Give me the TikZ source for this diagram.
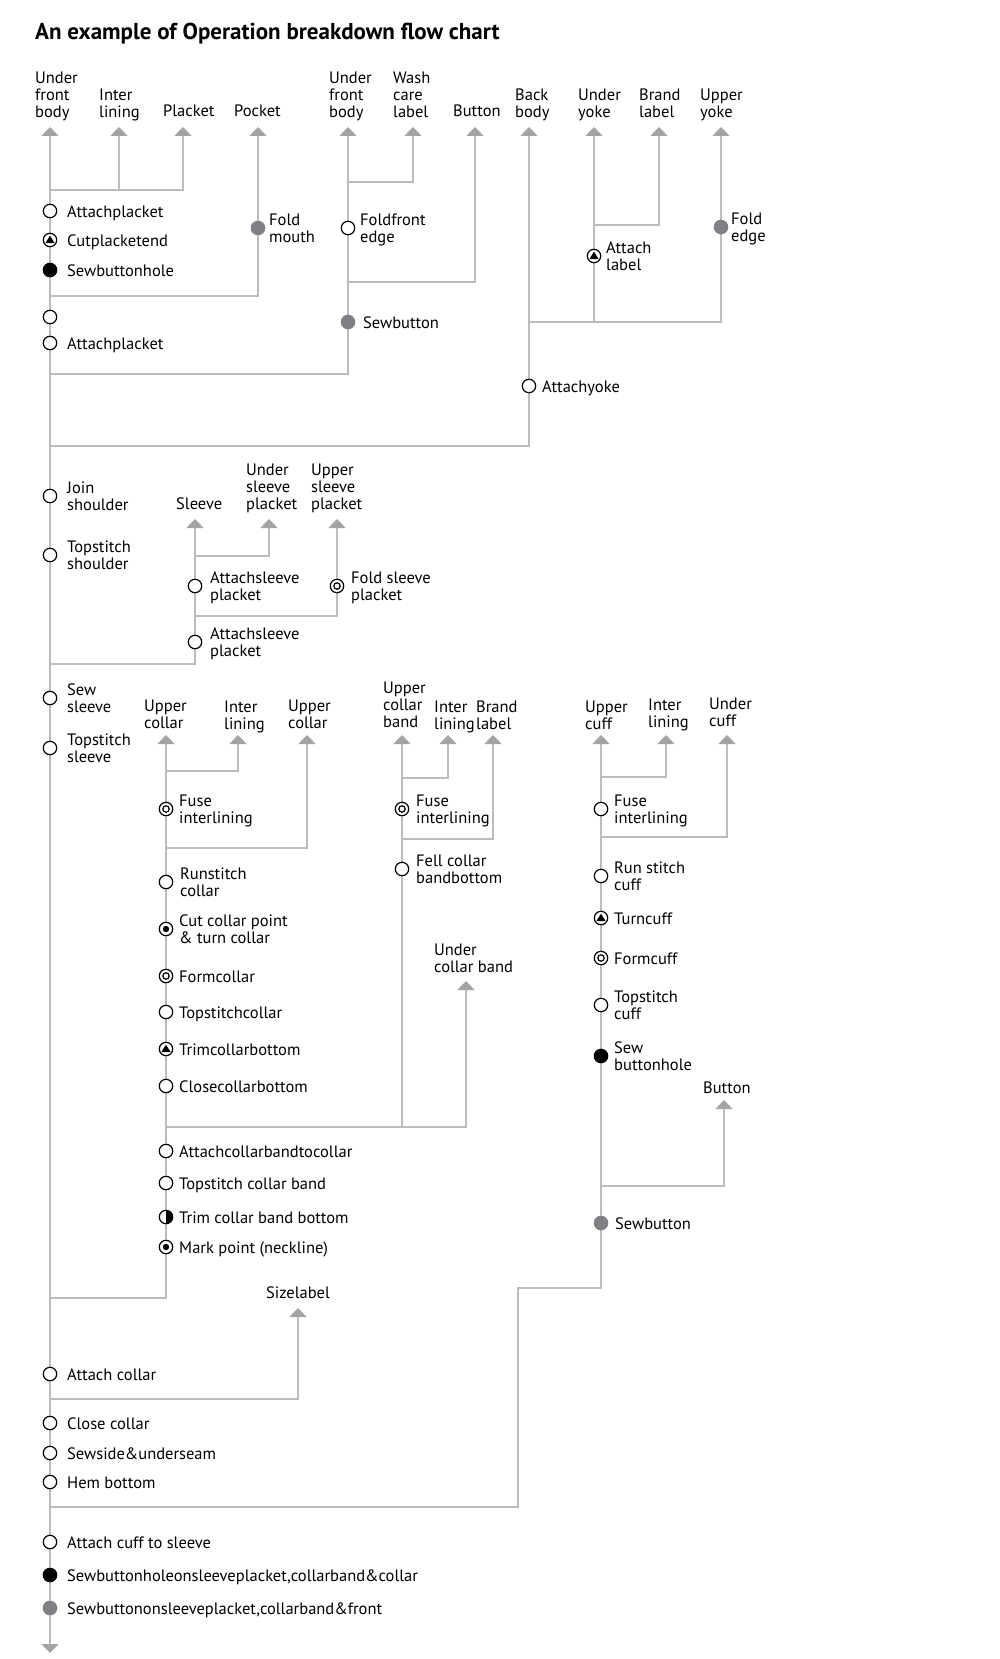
\documentclass[tikz,border=0pt]{standalone}
\usepackage{fontspec}
\setmainfont{PT Sans}
\usetikzlibrary{arrows.meta}
\definecolor{lngray}{RGB}{188,188,190}
\definecolor{argray}{RGB}{163,163,166}
\definecolor{dotgray}{RGB}{128,128,132}
\newcommand\labfont{\fontsize{16.5}{17}\selectfont}
\tikzset{
 ln/.style={draw=lngray, line width=1.5pt},
 ar/.style={-{Triangle[width=17pt,length=9pt,color=argray]}},
 arboth/.style={{Triangle[width=17pt,length=9pt,color=argray]}-{Triangle[width=17pt,length=9pt,color=argray]}},
 mk/.style={circle, inner sep=0pt, minimum size=13.4pt, line width=1.2pt},
 mopen/.style={mk, draw=black, fill=white},
 mblack/.style={mk, draw=black, fill=black},
 mgray/.style={mk, fill=dotgray, minimum size=14.6pt},
 mtri/.style={mopen, path picture={\fill[black] ([shift={(0pt,4.3pt)}]path picture bounding box.center) -- ([shift={(-4.6pt,-3pt)}]path picture bounding box.center) -- ([shift={(4.6pt,-3pt)}]path picture bounding box.center) -- cycle;}},
 mring/.style={mopen, path picture={\draw[black,line width=1.2pt] (path picture bounding box.center) circle[radius=3.2pt];}},
 mdot/.style={mopen, path picture={\fill[black] (path picture bounding box.center) circle[radius=3.2pt];}},
 mhalf/.style={mopen, path picture={\fill[black] (path picture bounding box.south) rectangle (path picture bounding box.north east);}},
 lb/.style={inner sep=0pt, align=left, font=\labfont},
 lbn/.style={lb, anchor=north west},
 lbb/.style={lb, anchor=base west},
}
\begin{document}
\begin{tikzpicture}[x=1pt,y=-1pt]
\fill[white] (0,0) rectangle (1000,1659);
\useasboundingbox (0,0) rectangle (1000,1659);

\node[anchor=base west, inner sep=0pt, font=\fontsize{23}{26}\selectfont\bfseries] (title) at (35,40) {An example of Operation breakdown flow chart};

% ---------- arrow tips ----------
\coordinate (aUFB) at (50,127);
\coordinate (aIL1) at (119,127);
\coordinate (aPla) at (183,127);
\coordinate (aPoc) at (258,127);
\coordinate (aUFB2) at (348,127);
\coordinate (aWash) at (413,127);
\coordinate (aBut) at (475,127);
\coordinate (aBack) at (529,127);
\coordinate (aUY) at (594,127);
\coordinate (aBL) at (659,127);
\coordinate (aUpY) at (721,127);
\coordinate (aSlv) at (195,519);
\coordinate (aUSP) at (269,519);
\coordinate (aUpSP) at (337,519);
\coordinate (aUC) at (166,735);
\coordinate (aIL2) at (238,735);
\coordinate (aUC2) at (307,735);
\coordinate (aUCB) at (402,735);
\coordinate (aIL3) at (448,735);
\coordinate (aBL2) at (493,735);
\coordinate (aUnCB) at (466,981);
\coordinate (aUCf) at (601,735);
\coordinate (aIL4) at (666,735);
\coordinate (aUnCf) at (727,735);
\coordinate (aBut2) at (724,1100);
\coordinate (aSize) at (298,1308);
\coordinate (aEnd) at (50,1653);

% ---------- junctions ----------
\coordinate (j1) at (50,190);   \coordinate (j1b) at (119,190);
\coordinate (j2) at (50,296);
\coordinate (j3) at (50,374);   \coordinate (j3b) at (348,182); \coordinate (j3c) at (348,282);
\coordinate (j4) at (50,446);   \coordinate (j4b) at (529,322); \coordinate (j4c) at (594,322); \coordinate (j4d) at (594,225);
\coordinate (j5) at (50,664);   \coordinate (j5b) at (195,556); \coordinate (j5c) at (195,616);
\coordinate (j6) at (50,1298);  \coordinate (j6b) at (166,771); \coordinate (j6c) at (166,848);
\coordinate (j6d) at (166,1127); \coordinate (j6e) at (402,1127); \coordinate (j6f) at (402,778); \coordinate (j6g) at (402,839);
\coordinate (j7) at (50,1399);
\coordinate (j8) at (50,1507);  \coordinate (k8) at (518,1288);
\coordinate (j8b) at (601,777); \coordinate (j8c) at (601,837); \coordinate (j8d) at (601,1186);

% ---------- connectors ----------
\draw[ln,arboth] (aEnd) -- (aUFB);
\draw[ln,ar] (j1) -| (aPla);
\draw[ln,ar] (j1b) -- (aIL1);
\draw[ln,ar] (j2) -| (aPoc);
\draw[ln,ar] (j3) -| (aUFB2);
\draw[ln,ar] (j3b) -| (aWash);
\draw[ln,ar] (j3c) -| (aBut);
\draw[ln,ar] (j4) -| (aBack);
\draw[ln,ar] (j4b) -| (aUpY);
\draw[ln,ar] (j4c) -- (aUY);
\draw[ln,ar] (j4d) -| (aBL);
\draw[ln,ar] (j5) -| (aSlv);
\draw[ln,ar] (j5b) -| (aUSP);
\draw[ln,ar] (j5c) -| (aUpSP);
\draw[ln,ar] (j6) -| (aUC);
\draw[ln,ar] (j6b) -| (aIL2);
\draw[ln,ar] (j6c) -| (aUC2);
\draw[ln,ar] (j6d) -| (aUnCB);
\draw[ln,ar] (j6e) -- (aUCB);
\draw[ln,ar] (j6f) -| (aIL3);
\draw[ln,ar] (j6g) -| (aBL2);
\draw[ln,ar] (j7) -| (aSize);
\draw[ln,ar] (j8) -| (k8) -| (aUCf);
\draw[ln,ar] (j8b) -| (aIL4);
\draw[ln,ar] (j8c) -| (aUnCf);
\draw[ln,ar] (j8d) -| (aBut2);

% ---------- top labels ----------
\node[lbn] (tUFB) at (35,71.5) {Under\\front\\body};
\node[lbn] (tIL1) at (99,88.5) {Inter\\lining};
\node[lbb] (tPla) at (163,117) {Placket};
\node[lbb] (tPoc) at (234,117) {Pocket};
\node[lbn] (tUFB2) at (329,71.5) {Under\\front\\body};
\node[lbn] (tWash) at (393,71.5) {Wash\\care\\label};
\node[lbb] (tBut) at (453,117) {Button};
\node[lbn] (tBack) at (515,88.5) {Back\\body};
\node[lbn] (tUY) at (578,88.5) {Under\\yoke};
\node[lbn] (tBL) at (639,88.5) {Brand\\label};
\node[lbn] (tUpY) at (700,88.5) {Upper\\yoke};
\node[lbb] (tSlv) at (176,509) {Sleeve};
\node[lbn] (tUSP) at (246,463.5) {Under\\sleeve\\placket};
\node[lbn] (tUpSP) at (311,463.5) {Upper\\sleeve\\placket};
\node[lbn] (tUC) at (144,699.5) {Upper\\collar};
\node[lbn] (tIL2) at (224,700.5) {Inter\\lining};
\node[lbn] (tUC2) at (288,699.5) {Upper\\collar};
\node[lbn] (tUCB) at (383,681.5) {Upper\\collar\\band};
\node[lbn] (tIL3) at (434,700.5) {Inter\\lining};
\node[lbn] (tBL2) at (476,700.5) {Brand\\label};
\node[lbn] (tUnCB) at (434,943.5) {Under\\collar band};
\node[lbn] (tUCf) at (585,700.5) {Upper\\cuff};
\node[lbn] (tIL4) at (648,698.5) {Inter\\lining};
\node[lbn] (tUnCf) at (709,697.5) {Under\\cuff};
\node[lbb] (tBut2) at (703,1093) {Button};
\node[lb,anchor=base] (tSize) at (298,1298) {Sizelabel};

% ---------- markers ----------
\node[mopen] (s1) at (50,211) {};
\node[mtri] (s2) at (50,240) {};
\node[mblack] (s3) at (50,270) {};
\node[mopen] (s4) at (50,317) {};
\node[mopen] (s5) at (50,343) {};
\node[mgray] (s6) at (258,228) {};
\node[mopen] (s7) at (348,228) {};
\node[mgray] (s8) at (348,322) {};
\node[mtri] (s9) at (594,256) {};
\node[mgray] (s10) at (721,227) {};
\node[mopen] (s11) at (529,386) {};
\node[mopen] (s12) at (50,496) {};
\node[mopen] (s13) at (50,555) {};
\node[mopen] (s14) at (195,586) {};
\node[mring] (s15) at (337,586) {};
\node[mopen] (s16) at (195,642) {};
\node[mopen] (s17) at (50,698) {};
\node[mopen] (s18) at (50,748) {};
\node[mring] (s19) at (166,809) {};
\node[mopen] (s20) at (166,882) {};
\node[mdot] (s21) at (166,929) {};
\node[mring] (s22) at (166,976) {};
\node[mopen] (s23) at (166,1012) {};
\node[mtri] (s24) at (166,1049) {};
\node[mopen] (s25) at (166,1086) {};
\node[mopen] (s26) at (166,1151) {};
\node[mopen] (s27) at (166,1183) {};
\node[mhalf] (s28) at (166,1217) {};
\node[mdot] (s29) at (166,1247) {};
\node[mring] (s30) at (402,809) {};
\node[mopen] (s31) at (402,869) {};
\node[mopen] (s32) at (601,809) {};
\node[mopen] (s33) at (601,876) {};
\node[mtri] (s34) at (601,918) {};
\node[mring] (s35) at (601,958) {};
\node[mopen] (s36) at (601,1005) {};
\node[mblack] (s37) at (601,1056) {};
\node[mgray] (s38) at (601,1223) {};
\node[mopen] (s39) at (50,1374) {};
\node[mopen] (s40) at (50,1423) {};
\node[mopen] (s41) at (50,1453) {};
\node[mopen] (s42) at (50,1482) {};
\node[mopen] (s43) at (50,1542) {};
\node[mblack] (s44) at (50,1575) {};
\node[mgray] (s45) at (50,1608) {};

% ---------- marker labels ----------
\node[lbb] (l1) at (67,217) {Attachplacket};
\node[lbb] (l2) at (67,246) {Cutplacketend};
\node[lbb] (l3) at (67,276) {Sewbuttonhole};
\node[lbb] (l5) at (67,349) {Attachplacket};
\node[lbn] (l6) at (269,213.8) {Fold\\mouth};
\node[lbn] (l7) at (360,213.8) {Foldfront\\edge};
\node[lbb] (l8) at (363,328) {Sewbutton};
\node[lbn] (l9) at (606,241.8) {Attach\\label};
\node[lbn] (l10) at (731,212.8) {Fold\\edge};
\node[lbb] (l11) at (542,392) {Attachyoke};
\node[lbn] (l12) at (67,481.8) {Join\\shoulder};
\node[lbn] (l13) at (67,540.8) {Topstitch\\shoulder};
\node[lbn] (l14) at (210,571.8) {Attachsleeve\\placket};
\node[lbn] (l15) at (351,571.8) {Fold sleeve\\placket};
\node[lbn] (l16) at (210,627.8) {Attachsleeve\\placket};
\node[lbn] (l17) at (67,683.8) {Sew\\sleeve};
\node[lbn] (l18) at (67,733.8) {Topstitch\\sleeve};
\node[lbn] (l19) at (179,794.8) {Fuse\\interlining};
\node[lbn] (l20) at (180,867.8) {Runstitch\\collar};
\node[lbn] (l21) at (179,914.8) {Cut collar point\\\& turn collar};
\node[lbb] (l22) at (179,982) {Formcollar};
\node[lbb] (l23) at (179,1018) {Topstitchcollar};
\node[lbb] (l24) at (179,1055) {Trimcollarbottom};
\node[lbb] (l25) at (179,1092) {Closecollarbottom};
\node[lbb] (l26) at (179,1157) {Attachcollarbandtocollar};
\node[lbb] (l27) at (179,1189) {Topstitch collar band};
\node[lbb] (l28) at (179,1223) {Trim collar band bottom};
\node[lbb] (l29) at (179,1253) {Mark point (neckline)};
\node[lbn] (l30) at (416,794.8) {Fuse\\interlining};
\node[lbn] (l31) at (416,854.8) {Fell collar\\bandbottom};
\node[lbn] (l32) at (614,794.8) {Fuse\\interlining};
\node[lbn] (l33) at (614,861.8) {Run stitch\\cuff};
\node[lbb] (l34) at (614,924) {Turncuff};
\node[lbb] (l35) at (614,964) {Formcuff};
\node[lbn] (l36) at (614,990.8) {Topstitch\\cuff};
\node[lbn] (l37) at (614,1041.8) {Sew\\buttonhole};
\node[lbb] (l38) at (615,1229) {Sewbutton};
\node[lbb] (l39) at (67,1380) {Attach collar};
\node[lbb] (l40) at (67,1429) {Close collar};
\node[lbb] (l41) at (67,1459) {Sewside\&underseam};
\node[lbb] (l42) at (67,1488) {Hem bottom};
\node[lbb] (l43) at (67,1548) {Attach cuff to sleeve};
\node[lbb] (l44) at (67,1581) {Sewbuttonholeonsleeveplacket,collarband\&collar};
\node[lbb] (l45) at (67,1614) {Sewbuttononsleeveplacket,collarband\&front};
\end{tikzpicture}
\end{document}
